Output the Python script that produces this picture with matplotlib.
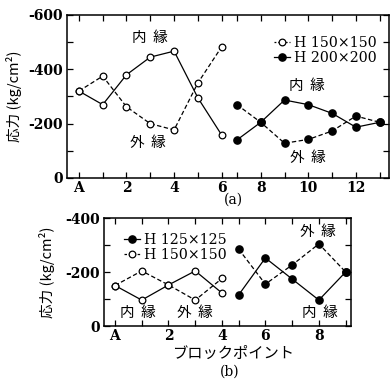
import numpy as np
import matplotlib
matplotlib.use("Agg")
import matplotlib.pyplot as plt
from matplotlib.lines import Line2D

# (a) H150x150, block points A(=0) .. 6
blocks_150a = [0, 1, 2, 3, 4, 5, 6]
h150a_solid = [-320, -270, -380, -445, -467, -295, -158]
h150a_dash = [-320, -375, -262, -200, -177, -350, -483]

# (a) H200x200, block points 7 .. 13
blocks_200a = [7, 8, 9, 10, 11, 12, 13]
h200a_solid = [-140, -205, -287, -270, -238, -187, -205]
h200a_dash = [-270, -205, -128, -142, -173, -228, -205]

# (b) H150x150, block points A .. 4
blocks_150b = [0, 1, 2, 3, 4]
h150b_solid = [-150, -96, -152, -204, -122]
h150b_dash = [-150, -204, -152, -96, -176]

# (b) H125x125, block points 5 .. 9
blocks_125b = [5, 6, 7, 8, 9]
h125b_solid = [-115, -252, -174, -96, -200]
h125b_dash = [-285, -155, -226, -304, -200]

xlabels_a = {0: "A", 2: "2", 4: "4", 6: "6", 8: "8", 10: "10", 12: "12"}
xlabels_b = {0: "A", 2: "2", 4: "4", 6: "6", 8: "8"}
yticks_a = [0, -100, -200, -300, -400, -500, -600]
yticks_b = [0, -100, -200, -300, -400]

SERIF = "DejaVu Serif"
JP = ["Noto Sans CJK JP", "DejaVu Sans"]

W, H = 391, 379
fig = plt.figure(figsize=(W / 100, H / 100), dpi=100)
fig.patch.set_facecolor("white")


def px(x, y):
    return x / W, 1 - y / H


def axes_px(l, t, r, b):
    return fig.add_axes([l / W, 1 - b / H, (r - l) / W, (b - t) / H])


def pos(blocks, split, shift):
    # the second beam's block points sit a bit closer on the original axis
    b = np.asarray(blocks, dtype=float)
    return np.where(b > split, b - shift, b)


def style_axes(ax, blocks, split, shift, xlabels, yticks):
    xp = pos(blocks, split, shift)
    ax.set_xticks(xp)
    ax.set_xticklabels([xlabels.get(b, "") for b in blocks],
                       fontfamily=SERIF, fontweight="bold", fontsize=10)
    ax.set_yticks(yticks)
    ax.set_yticklabels([("%d" % v) if v % 200 == 0 else "" for v in yticks],
                       fontfamily=SERIF, fontweight="bold", fontsize=10)
    ax.tick_params(direction="in", top=True, right=True, length=4,
                   width=0.9, colors="black")
    ax.tick_params(axis="x", pad=2)
    ax.tick_params(axis="y", pad=3)
    for s in ax.spines.values():
        s.set_linewidth(1.1)


mk_open = dict(marker="o", markersize=4.8, markerfacecolor="white",
               markeredgecolor="black", markeredgewidth=0.9, color="black", lw=0.9)
mk_fill = dict(marker="o", markersize=5.2, markerfacecolor="black",
               markeredgecolor="black", color="black", lw=0.9)
DASH = (0, (3.5, 2))

# ---------------- (a) ----------------
SHIFT_A = 0.36
ax1 = axes_px(67, 15, 389, 178)
ax1.plot(blocks_150a, h150a_solid, ls="-", **mk_open)
ax1.plot(blocks_150a, h150a_dash, ls=DASH, **mk_open)
x200 = pos(blocks_200a, 6, SHIFT_A)
ax1.plot(x200, h200a_solid, ls="-", **mk_fill)
ax1.plot(x200, h200a_dash, ls=DASH, **mk_fill)
ax1.set_xlim(-0.5, 13.03)
ax1.set_ylim(0, -600)
style_axes(ax1, blocks_150a + blocks_200a, 6, SHIFT_A, xlabels_a, yticks_a)
ax1.set_ylabel("応力 (kg/cm²)", family=JP, fontsize=10.5)
ax1.yaxis.set_label_coords(-0.14, 0.5)

leg_a = [Line2D([], [], ls=(0, (1.5, 1.5)), **mk_open),
         Line2D([], [], ls="-", **mk_fill)]
ax1.legend(leg_a, ["H 150×150", "H 200×200"], loc="upper left",
           bbox_to_anchor=px(274, 36), bbox_transform=fig.transFigure,
           frameon=False, borderpad=0, borderaxespad=0, handlelength=1.1,
           handletextpad=0.3, labelspacing=0.05,
           prop={"family": SERIF, "size": 10.2})

for (x, y, s) in [(150, 38, "内  縁"), (148, 143, "外  縁"),
                  (307, 86, "内  縁"), (308, 158, "外  縁")]:
    fig.text(*px(x, y), s, family=JP, fontsize=10.5, ha="center", va="center")
fig.text(*px(233, 200), "(a)", family=SERIF, fontsize=10, ha="center", va="center")

# ---------------- (b) ----------------
SHIFT_B = 0.38
ax2 = axes_px(104, 218, 351, 326)
ax2.plot(blocks_150b, h150b_solid, ls="-", **mk_open)
ax2.plot(blocks_150b, h150b_dash, ls=DASH, **mk_open)
x125 = pos(blocks_125b, 4, SHIFT_B)
ax2.plot(x125, h125b_solid, ls="-", **mk_fill)
ax2.plot(x125, h125b_dash, ls=DASH, **mk_fill)
ax2.set_xlim(-0.41, 8.82)
ax2.set_ylim(0, -400)
style_axes(ax2, blocks_150b + blocks_125b, 4, SHIFT_B, xlabels_b, yticks_b)
ax2.set_ylabel("応力 (kg/cm²)", family=JP, fontsize=10.5)
ax2.yaxis.set_label_coords(-0.2, 0.5)

leg_b = [Line2D([], [], ls="-", **mk_fill),
         Line2D([], [], ls=(0, (2, 1.5)), **mk_open)]
ax2.legend(leg_b, ["H 125×125", "H 150×150"], loc="upper left",
           bbox_to_anchor=px(124, 233), bbox_transform=fig.transFigure,
           frameon=False, borderpad=0, borderaxespad=0, handlelength=1.1,
           handletextpad=0.3, labelspacing=0.05,
           prop={"family": SERIF, "size": 10.2})

for (x, y, s) in [(138, 313, "内  縁"), (195, 313, "外  縁"),
                  (318, 232, "外  縁"), (320, 313, "内  縁")]:
    fig.text(*px(x, y), s, family=JP, fontsize=10.5, ha="center", va="center")
fig.text(*px(233, 353), "ブロックポイント", family=JP, fontsize=11,
         ha="center", va="center")
fig.text(*px(230, 372), "(b)", family=SERIF, fontsize=10, ha="center", va="center")

fig.savefig("out.png", dpi=100, facecolor="white")
